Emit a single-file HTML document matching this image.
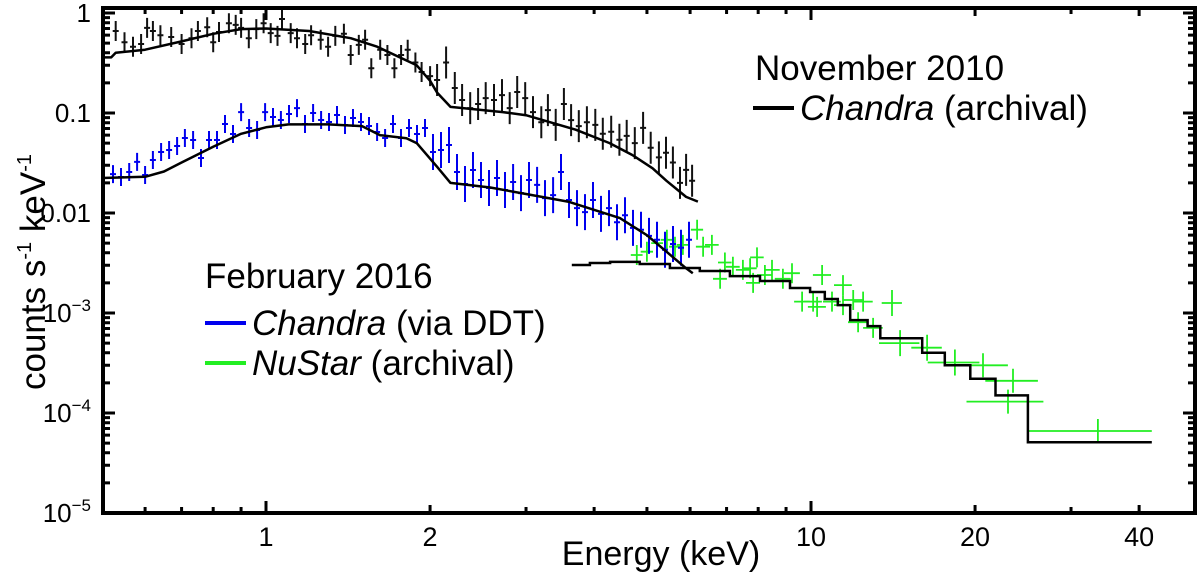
<!DOCTYPE html>
<html><head><meta charset="utf-8"><style>
html,body{margin:0;padding:0;background:#fff;width:1200px;height:573px;overflow:hidden}
svg text{font-family:"Liberation Sans",Arial,sans-serif;fill:#000}
</style></head><body>
<svg id="chart" width="1200" height="573" viewBox="0 0 1200 573" xmlns="http://www.w3.org/2000/svg">
<g id="marks"></g>
<g id="axes"></g>
<g>
 <text x="755" y="80" font-size="35">November 2010</text>
 <line x1="753" y1="108" x2="794" y2="108" stroke="#000" stroke-width="4"/>
 <text x="800" y="120" font-size="35"><tspan font-style="italic">Chandra</tspan> (archival)</text>
</g>
<g>
 <text x="205" y="288" font-size="35">February 2016</text>
 <line x1="205" y1="323" x2="246" y2="323" stroke="#0000ee" stroke-width="4"/>
 <text x="252" y="335" font-size="35"><tspan font-style="italic">Chandra</tspan> (via DDT)</text>
 <line x1="205" y1="363" x2="246" y2="363" stroke="#22ee22" stroke-width="4"/>
 <text x="252" y="375" font-size="35"><tspan font-style="italic">NuStar</tspan> (archival)</text>
</g>
<text x="661" y="565" font-size="34" text-anchor="middle">Energy (keV)</text>
<text transform="translate(45,272) rotate(-90)" font-size="35" text-anchor="middle">counts s<tspan font-size="20" dy="-14">-1</tspan><tspan dy="14"> keV</tspan><tspan font-size="20" dy="-14">-1</tspan></text>
</svg>
<script>
// ---- data ----
const blackE=[0.53,0.55,0.57,0.59,0.605,0.62,0.64,0.67,0.70,0.73,0.75,0.78,0.80,0.82,0.855,0.88,0.90,0.93,0.96,0.99,1.02,1.05,1.07,1.11,1.14,1.18,1.21,1.26,1.30,1.34,1.39,1.43,1.48,1.52,1.56,1.62,1.67,1.72,1.77,1.82,1.88,1.93,2.00,2.06,2.14,2.22,2.29,2.37,2.45,2.53,2.62,2.71,2.80,2.89,2.99,3.09,3.20,3.29,3.40,3.52,3.63,3.75,3.88,4.02,4.15,4.30,4.45,4.59,4.75,4.92,5.08,5.26,5.42,5.58,5.75,5.90,6.05];
const blackV=[0.66,0.51,0.46,0.49,0.71,0.66,0.60,0.575,0.49,0.56,0.66,0.72,0.51,0.645,0.79,0.76,0.71,0.56,0.69,0.79,0.63,0.59,0.87,0.63,0.56,0.49,0.60,0.54,0.46,0.59,0.62,0.38,0.48,0.54,0.28,0.43,0.38,0.28,0.38,0.43,0.32,0.257,0.234,0.214,0.32,0.178,0.135,0.112,0.123,0.141,0.135,0.151,0.112,0.162,0.141,0.102,0.081,0.107,0.076,0.123,0.085,0.074,0.081,0.076,0.062,0.065,0.054,0.059,0.050,0.071,0.045,0.036,0.040,0.032,0.020,0.027,0.021];
const blueE=[0.524,0.542,0.561,0.580,0.600,0.620,0.642,0.664,0.687,0.710,0.735,0.760,0.786,0.813,0.841,0.870,0.900,0.931,0.963,0.996,1.030,1.065,1.102,1.140,1.179,1.220,1.262,1.305,1.350,1.396,1.444,1.494,1.545,1.599,1.654,1.710,1.769,1.830,1.893,1.958,2.025,2.095,2.167,2.241,2.318,2.398,2.480,2.566,2.654,2.745,2.840,2.937,3.038,3.143,3.251,3.363,3.478,3.597,3.721,3.849,3.981,4.118,4.260,4.406,4.558,4.714,4.876,5.044,5.217,5.397,5.582,5.774,5.972];
const blueV=[0.0245,0.0229,0.0257,0.0324,0.0240,0.0339,0.0407,0.0427,0.0468,0.0562,0.0537,0.0355,0.0537,0.0537,0.0776,0.0617,0.102,0.0708,0.0676,0.102,0.0912,0.0851,0.0977,0.112,0.0776,0.100,0.0851,0.0813,0.0955,0.0759,0.0891,0.0813,0.0741,0.0646,0.0562,0.0776,0.0562,0.0708,0.0617,0.0708,0.0407,0.0427,0.0479,0.0257,0.0195,0.0269,0.0214,0.0178,0.0224,0.0170,0.0204,0.0158,0.0214,0.0191,0.0141,0.0151,0.0257,0.0135,0.0112,0.0102,0.0135,0.0098,0.0112,0.0081,0.0095,0.0071,0.0068,0.0059,0.0054,0.0043,0.0049,0.0045,0.0054];
const greenE=[4.79,5.00,5.22,5.44,5.63,5.82,6.18,6.34,6.58,6.81,6.95,7.19,7.50,7.73,7.83,7.96,8.23,8.48,8.88,9.23,9.63,10.09,10.26,10.48,10.93,11.45,11.45,11.95,12.20,12.46,13.00,14.08,14.57,16.33,18.37,20.68,23.48,22.99,33.6];
const greenV=[0.0038,0.0041,0.0050,0.0054,0.0046,0.0048,0.0068,0.0046,0.0048,0.0022,0.0032,0.0029,0.0027,0.0028,0.0020,0.0036,0.0024,0.0027,0.0022,0.0025,0.0013,0.0013,0.00115,0.0024,0.0013,0.0019,0.0012,0.00135,0.00081,0.0013,0.00071,0.00126,0.00050,0.00045,0.00032,0.00030,0.00021,0.00013,0.000066];
const greenBinHalf=[0.12,0.13,0.13,0.14,0.14,0.15,0.16,0.19,0.19,0.20,0.20,0.21,0.22,0.22,0.23,0.23,0.27,0.28,0.30,0.31,0.32,0.38,0.39,0.40,0.41,0.43,0.43,0.50,0.51,0.52,0.54,0.60,1.24,1.05,2.0,2.3,2.6,3.7,8.6];
const blackModelE=[0.5,0.52,0.53,0.6,0.7,0.8,0.9,1.0,1.2,1.43,1.6,1.76,1.89,2.0,2.06,2.18,2.5,2.72,3.0,3.32,3.7,4.27,4.7,5.12,5.43,5.9,6.2];
const blackModelV=[0.36,0.36,0.40,0.43,0.52,0.62,0.69,0.70,0.66,0.56,0.46,0.36,0.30,0.21,0.16,0.115,0.107,0.102,0.095,0.081,0.068,0.05,0.038,0.028,0.021,0.0145,0.013];
const blueModelE=[0.5,0.6,0.65,0.7,0.8,0.9,1.0,1.1,1.3,1.5,1.62,1.81,1.89,2.06,2.18,2.58,3.0,3.6,4.46,5.0,5.43,5.9,6.07];
const blueModelV=[0.0224,0.0230,0.026,0.032,0.046,0.062,0.072,0.077,0.077,0.074,0.060,0.056,0.050,0.029,0.020,0.018,0.0155,0.0129,0.0089,0.006,0.0041,0.0028,0.0025];
const nuModelEdges=[3.64,3.93,4.28,4.85,5.51,6.25,7.10,8.06,9.15,9.96,10.6,11.2,11.8,12.7,13.4,16.0,17.6,19.6,21.8,25.0,42.2];
const nuModelV=[0.00302,0.00316,0.00324,0.00309,0.00282,0.00263,0.00234,0.00209,0.00178,0.00162,0.00138,0.00120,0.00085,0.00074,0.00056,0.00040,0.00030,0.00022,0.00015,0.000051];
const xTickMajor=[1,2,10,20,40];
const xTickLabels=["1","2","10","20","40"];
const yDecades=[1,0.1,0.01,0.001,0.0001,0.00001];
// ---- scales ----
const X0=103,X1=1195,Y0=8,Y1=513;
function sx(e){return 266+545*Math.log10(e);}
function sy(v){return 13-100*Math.log10(v);}
const NS="http://www.w3.org/2000/svg";
const marks=document.getElementById('marks'),axes=document.getElementById('axes');
function mk(tag,attrs,parent){const el=document.createElementNS(NS,tag);for(const k in attrs)el.setAttribute(k,attrs[k]);parent.appendChild(el);return el;}
function errPts(E,V,col,name,xh,yd,sw){
  const g=mk('g',{},marks);
  
  
  for(let i=0;i<E.length;i++){
    const x=sx(E[i]),y=sy(V[i]);
    const hx=typeof xh==='function'?xh(i):xh;
    const dy=typeof yd==='function'?yd(i):yd;
    const p=mk('path',{d:`M${(x-hx[0]).toFixed(1)},${y.toFixed(1)}H${(x+hx[1]).toFixed(1)}M${x.toFixed(1)},${sy(V[i]*Math.pow(10,dy)).toFixed(1)}V${sy(V[i]/Math.pow(10,dy)).toFixed(1)}`,stroke:col,'stroke-width':sw,fill:'none'},g);
    
    
  }
}
function line(E,V,name,col){
  const d=E.map((e,i)=>(i?'L':'M')+sx(e).toFixed(1)+','+sy(V[i]).toFixed(1)).join('');
  const p=mk('path',{d:d,stroke:col,'stroke-width':2.5,fill:'none','stroke-linejoin':'round'},marks);
  
  
}
errPts(greenE,greenV,'#22ee22','nustar-data',i=>{const x=sx(greenE[i]);return [x-sx(greenE[i]-greenBinHalf[i]),sx(greenE[i]+greenBinHalf[i])-x];},i=>greenE[i]<14?0.1:(greenE[i]<20?0.13:0.12),1.8);
errPts(blackE,blackV,'#111','chandra-2010-data',[3,3],i=>0.1+0.06*(blackE[i]>2?1:0),2);
errPts(blueE,blueV,'#0000ee','chandra-2016-data',[3,3],i=>0.09+0.09*(blueE[i]>2?1:0),2);
line(blackModelE,blackModelV,'chandra-2010-model','#000');
line(blueModelE,blueModelV,'chandra-2016-model','#000');
{let d='';for(let i=0;i<nuModelV.length;i++){const y=sy(nuModelV[i]).toFixed(1);d+=(i?'L':'M')+sx(nuModelEdges[i]).toFixed(1)+','+y+'L'+sx(nuModelEdges[i+1]).toFixed(1)+','+y;}
const p=mk('path',{d:d,stroke:'#000','stroke-width':2.5,fill:'none'},marks);

}
const fr=mk('rect',{x:X0,y:Y0,width:X1-X0,height:Y1-Y0,fill:'none',stroke:'#000','stroke-width':4},axes);


const minorX=[0.6,0.7,0.8,0.9,3,4,5,6,7,8,9,30];
for(const e of minorX){const x=sx(e);mk('path',{d:`M${x},${Y1}v-6M${x},${Y0}v6`,stroke:'#000','stroke-width':3},axes);}
xTickMajor.forEach((e,i)=>{const x=sx(e);const L=(e===1||e===10)?12:8;
 mk('path',{d:`M${x},${Y1}v-${L}M${x},${Y0}v${L}`,stroke:'#000','stroke-width':3},axes);
 const t=mk('text',{x:x,y:546,'font-size':27,'text-anchor':'middle'},axes);t.textContent=xTickLabels[i];
 
 });
yDecades.forEach((v,i)=>{const y=sy(v);
 mk('path',{d:`M${X0},${y}h12M${X1},${y}h-12`,stroke:'#000','stroke-width':3},axes);
 if(i<yDecades.length-1)for(let m=2;m<=9;m++){const ym=sy(v/10*m);mk('path',{d:`M${X0},${ym}h7M${X1},${ym}h-7`,stroke:'#000','stroke-width':3},axes);}
 const t=mk('text',{x:91,y:y+9,'font-size':26,'text-anchor':'end'},axes);
 
 
 if(i<3)t.textContent=String(v);
 else{t.textContent='10';const s=mk('tspan',{'font-size':17,dy:-11},t);s.textContent='\u2212'+i;}});
</script>
</body></html>
